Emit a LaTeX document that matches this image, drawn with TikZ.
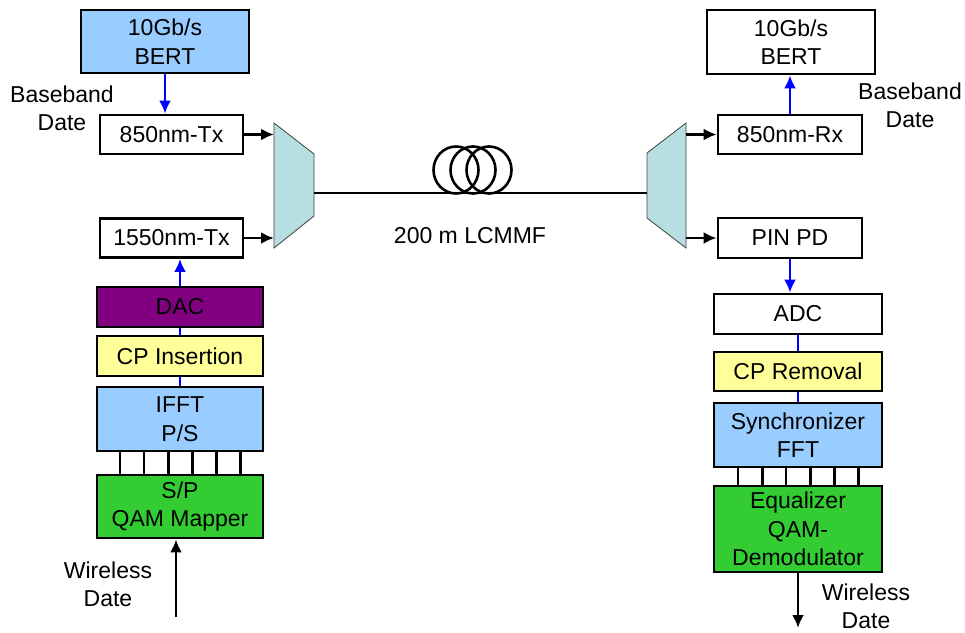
\documentclass[tikz,border=0pt]{standalone}
\usepackage{fontspec}
\setmainfont{Liberation Sans}
\usetikzlibrary{calc,arrows.meta}
\definecolor{bertblue}{HTML}{99CCFF}
\definecolor{dacpurple}{HTML}{800080}
\definecolor{cpyellow}{HTML}{FFFF99}
\definecolor{qamgreen}{HTML}{33CC33}
\definecolor{muxteal}{HTML}{B7DEE0}

\begin{document}
\begin{tikzpicture}[x=1pt,y=-1pt,>={Latex[length=13pt,width=12pt]},
  blk/.style={draw,line width=2.8pt,inner sep=0pt,align=center,
    font=\fontsize{23}{28.5}\selectfont},
  lbl/.style={align=center,font=\fontsize{23}{28}\selectfont},
  mux/.style={draw=black!75,line width=0.8pt,fill=muxteal},
  bluearr/.style={blue,line width=2.6pt},
  blkarr/.style={black,line width=2.6pt}]
  \useasboundingbox (0,0) rectangle (965,632);

  % transmitter side
  \node[blk,fill=bertblue,minimum width=168,minimum height=63] (bertL) at (165,41.5) {10Gb/s\\BERT};
  \node[blk,minimum width=143,minimum height=39] (txA) at (171.5,134.5) {850nm-Tx};
  \node[blk,minimum width=143,minimum height=39] (txB) at (171.5,238) {1550nm-Tx};
  \node[blk,fill=dacpurple,minimum width=166,minimum height=40] (dac) at (180,307) {DAC};
  \node[blk,fill=cpyellow,minimum width=166,minimum height=40] (cpi) at (180,356) {CP Insertion};
  \node[blk,fill=bertblue,minimum width=166,minimum height=64] (ifft) at (180,419) {IFFT\\P/S};
  \node[blk,fill=qamgreen,minimum width=166,minimum height=63] (qamL) at (180,506.5) {S/P\\QAM Mapper};
  \node[lbl] (bbL) at (62,108) {Baseband\\Date};
  \node[lbl] (wlL) at (108,584) {Wireless\\Date};
  \coordinate (winL) at (176,617);

  \draw[->,bluearr] (bertL.south) -- (bertL.south |- txA.north);
  \draw[->,bluearr] (dac.north) -- (dac.north |- txB.south);
  \draw[bluearr] (dac.south) -- (cpi.north);
  \draw[bluearr] (cpi.south) -- (ifft.north);
  \foreach \t in {0.145,0.287,0.43,0.573,0.716,0.858}
    \draw[line width=2.8pt] ($(ifft.south west)!\t!(ifft.south east)$) -- ($(qamL.north west)!\t!(qamL.north east)$);
  \draw[->,blkarr] (winL) -- (winL |- qamL.south);

  % multiplexer, fibre, demultiplexer
  \draw[mux] (274,123) -- (314,154) -- (314,216) -- (274,248) -- cycle;
  \draw[mux] (647,153) -- (686,123) -- (686,248) -- (647,218) -- cycle;
  \coordinate (muxLin) at (274,0);
  \coordinate (muxRout) at (686,0);
  \coordinate (fibL) at (314,193);
  \coordinate (fibR) at (647,193);
  \draw[->,blkarr] (txA.east) -- (txA.east -| muxLin);
  \draw[->,blkarr] (txB.east) -- (txB.east -| muxLin);
  \draw[line width=2.4pt] (fibL) -- (fibR);
  \foreach \cx in {456,473,489}
    \draw[line width=2.6pt] (\cx,170) circle[x radius=22.5,y radius=23.5];
  \node[lbl] (fibre) at (470,236) {200 m LCMMF};

  % receiver side
  \node[blk,minimum width=168,minimum height=64] (bertR) at (791,42) {10Gb/s\\BERT};
  \node[blk,minimum width=144,minimum height=39] (rxA) at (790,134.5) {850nm-Rx};
  \node[blk,minimum width=144,minimum height=40] (pin) at (790,238) {PIN PD};
  \node[blk,minimum width=168,minimum height=40] (adc) at (798,314) {ADC};
  \node[blk,fill=cpyellow,minimum width=168,minimum height=39] (cpr) at (798,371.5) {CP Removal};
  \node[blk,fill=bertblue,minimum width=168,minimum height=64] (fft) at (798,435) {Synchronizer\\FFT};
  \node[blk,fill=qamgreen,minimum width=168,minimum height=86] (qamR) at (798,529) {Equalizer\\QAM-\\Demodulator};
  \node[lbl] (bbR) at (910,105) {Baseband\\Date};
  \node[lbl] (wlR) at (866,606) {Wireless\\Date};
  \coordinate (woutR) at (797,628);

  \draw[->,blkarr] (rxA.west -| muxRout) -- (rxA.west);
  \draw[->,blkarr] (pin.west -| muxRout) -- (pin.west);
  \draw[->,bluearr] (rxA.north) -- (rxA.north |- bertR.south);
  \draw[->,bluearr] (pin.south) -- (pin.south |- adc.north);
  \draw[bluearr] (adc.south) -- (cpr.north);
  \draw[bluearr] (cpr.south) -- (fft.north);
  \foreach \t in {0.149,0.29,0.43,0.571,0.714,0.855}
    \draw[line width=2.8pt] ($(fft.south west)!\t!(fft.south east)$) -- ($(qamR.north west)!\t!(qamR.north east)$);
  \draw[->,blkarr] (qamR.south) -- (qamR.south |- woutR);
\end{tikzpicture}
\end{document}
